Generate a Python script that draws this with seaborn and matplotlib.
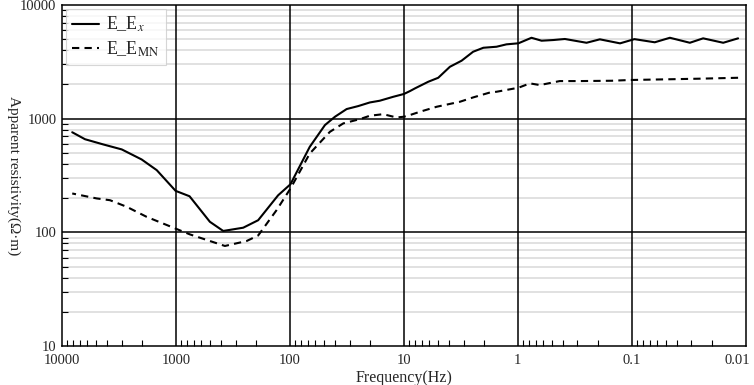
import matplotlib
matplotlib.use("Agg")
import matplotlib.pyplot as plt
import matplotlib.ticker as mticker
import matplotlib.transforms as mtransforms
import pandas as pd
import seaborn as sns

# values
freq_ex = [8130, 6280, 4345, 2990, 2000, 1475, 1007, 760, 504, 385, 257, 190, 127, 99,
           67, 49.3, 40.3, 31.8, 25.2, 19.9, 16.3, 12.4, 10, 8.85, 8.0, 6.12, 5.0, 3.95,
           3.12, 2.47, 2.01, 1.54, 1.26, 0.99, 0.76, 0.62, 0.49, 0.387, 0.25, 0.191,
           0.127, 0.095, 0.063, 0.0464, 0.031, 0.0237, 0.0158, 0.0117]
rho_ex = [760, 660, 594, 537, 438, 353, 232, 208, 124, 103, 110, 128, 212, 265,
          566, 879, 1040, 1216, 1291, 1390, 1439, 1559, 1650, 1750, 1848, 2113, 2291, 2862,
          3236, 3882, 4207, 4295, 4508, 4605, 5150, 4853, 4920, 5025, 4655, 4990,
          4600, 5010, 4700, 5150, 4655, 5091, 4655, 5091]

freq_emn = [8130, 4965, 3793, 2706, 1806, 1007, 753, 372, 240, 190, 131, 99, 67, 44.6,
            34, 24.3, 19.9, 15.2, 11.6, 10, 8.85, 7.24, 5.16, 3.23, 2.47, 1.76, 1.54,
            0.99, 0.785, 0.641, 0.43, 0.286, 0.15, 0.104, 0.05, 0.025, 0.0117]
rho_emn = [220, 199, 192, 168, 137, 108, 96, 76, 84, 94, 157, 243, 494, 767,
           910, 992, 1062, 1096, 1025, 1041, 1077, 1151, 1274, 1409, 1539, 1700, 1726,
           1872, 2045, 1976, 2143, 2143, 2157, 2190, 2220, 2250, 2291]

xt = [10000, 1000, 100, 10, 1, 0.1, 0.01]
xt_labels = ['10000', '1000', '100', '10', '1', '0.1', '0.01']
yt = [10, 100, 1000, 10000]
yt_labels = ['10', '100', '1000', '10000']

sns.set_style("white")
plt.rcParams['font.family'] = ['Liberation Serif', 'DejaVu Serif']
plt.rcParams['mathtext.fontset'] = 'stix'

fig = plt.figure(figsize=(7.54, 3.85), dpi=100)
ax = fig.add_axes([0.0822, 0.101, 0.907, 0.886])

df_ex = pd.DataFrame({'f': freq_ex, 'rho': rho_ex})
df_mn = pd.DataFrame({'f': freq_emn, 'rho': rho_emn})
sns.lineplot(data=df_ex, x='f', y='rho', ax=ax, color='black', lw=1.5,
             label=r'E_E$_{x}$', zorder=3)
sns.lineplot(data=df_mn, x='f', y='rho', ax=ax, color='black', lw=1.5,
             linestyle=(0, (3.5, 2.5)), label=r'E_E$_{\mathrm{MN}}$', zorder=3)

ax.set_xscale('log')
ax.set_yscale('log')
ax.set_xlim(10000, 0.01)
ax.set_ylim(10, 10000)

ax.set_xticks(xt)
ax.set_xticklabels(xt_labels)
ax.set_yticks(yt)
ax.set_yticklabels(yt_labels)
ax.xaxis.set_minor_locator(mticker.LogLocator(base=10, subs=range(2, 10), numticks=20))
ax.yaxis.set_minor_locator(mticker.LogLocator(base=10, subs=range(2, 10), numticks=20))
ax.xaxis.set_minor_formatter(mticker.NullFormatter())
ax.yaxis.set_minor_formatter(mticker.NullFormatter())

# light minor grid behind, black major lines on top of it
ax.grid(True, which='minor', axis='y', color='#dcdcdc', lw=1.2)
ax.set_axisbelow(True)
for v in xt[1:-1]:
    ax.axvline(v, color='black', lw=1.1, zorder=1.5)
for v in yt[1:-1]:
    ax.axhline(v, color='black', lw=1.1, zorder=1.5)

ax.tick_params(which='major', length=0, labelsize=10.5, bottom=True, left=True)
ax.tick_params(axis='x', which='major', pad=6)
ax.tick_params(axis='y', which='major', pad=4)
ax.tick_params(which='minor', direction='in', length=4, width=0.8, color='black',
               bottom=True, left=True)

# last x label sits inside the right edge, as in the original
lab = ax.get_xticklabels()[-1]
lab.set_transform(lab.get_transform() + mtransforms.ScaledTranslation(-9 / 100, 0, fig.dpi_scale_trans))

for s in ax.spines.values():
    s.set_color('black')
    s.set_linewidth(1.1)
    s.set_zorder(4)

ax.set_xlabel('Frequency(Hz)', fontsize=11.5, labelpad=2)
ax.set_ylabel('Apparent resistivity(Ω·m)', fontsize=11, rotation=270, labelpad=16)
ax.yaxis.set_label_coords(-0.08, 0.5)

leg = ax.legend(loc='upper left', fontsize=13, frameon=True, fancybox=False,
                handlelength=1.5, handletextpad=0.4, borderaxespad=0.2,
                borderpad=0.35, labelspacing=0.3, edgecolor='#cccccc')
leg.get_frame().set_linewidth(0.8)
leg.set_zorder(5)

fig.savefig('out.png', dpi=100)
